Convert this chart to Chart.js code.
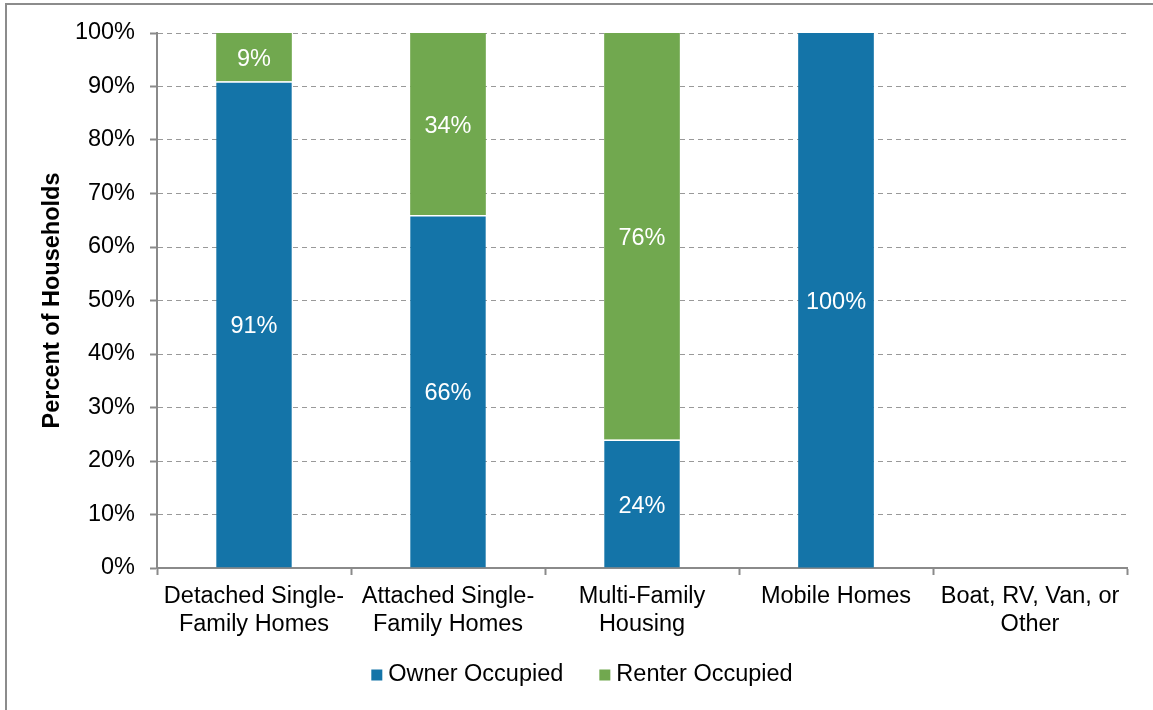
<!DOCTYPE html>
<html>
<head>
<meta charset="utf-8">
<script src="https://cdn.jsdelivr.net/npm/chart.js@4/dist/chart.umd.min.js"></script>
<style>
  html, body { margin: 0; padding: 0; background: #fff; }
  #wrap { width: 1153px; height: 710px; position: relative; }
</style>
</head>
<body>
<div id="wrap"><canvas id="c" width="1153" height="710"></canvas></div>
<script>
// Housing type categories (two-line labels)
const categories = [
  ['Detached Single-', 'Family Homes'],
  ['Attached Single-', 'Family Homes'],
  ['Multi-Family', 'Housing'],
  ['Mobile Homes'],
  ['Boat, RV, Van, or', 'Other']
];
// Share of households by tenure, in percent
const ownerOccupied = [91, 66, 24, 100, 0];
const renterOccupied = [9, 34, 76, 0, 0];
const seriesNames = ['Owner Occupied', 'Renter Occupied'];
const yTicks = [0, 10, 20, 30, 40, 50, 60, 70, 80, 90, 100];

const FONT = '"Liberation Sans", Arial, Helvetica, sans-serif';
const FS = 23.5;
const BLUE = '#1474a8';
const GREEN = '#71a84f';
const AXIS = '#8a8a8a';

// Outer frame of the chart object
const framePlugin = {
  id: 'frame',
  beforeDraw(chart) {
    const ctx = chart.ctx;
    ctx.save();
    ctx.strokeStyle = '#8c8c8c';
    ctx.lineWidth = 2;
    ctx.beginPath();
    ctx.moveTo(6, 720);
    ctx.lineTo(6, 4);
    ctx.lineTo(1160, 4);
    ctx.stroke();
    ctx.restore();
  }
};

// Percent labels inside each bar segment
const valueLabels = {
  id: 'valueLabels',
  afterDatasetsDraw(chart) {
    const ctx = chart.ctx;
    ctx.save();
    ctx.fillStyle = '#ffffff';
    ctx.font = FS + 'px ' + FONT;
    ctx.textAlign = 'center';
    ctx.textBaseline = 'middle';
    chart.data.datasets.forEach((ds, di) => {
      const meta = chart.getDatasetMeta(di);
      meta.data.forEach((bar, i) => {
        const v = ds.data[i];
        if (!v) return;
        const props = bar.getProps(['x', 'y', 'base'], true);
        ctx.fillText(v + '%', props.x, (props.y + props.base) / 2 + 2.5);
      });
    });
    ctx.restore();
  }
};

// Legend row under the axis: small square swatch, label, wide gap between entries
const legendRow = {
  id: 'legendRow',
  afterDraw(chart) {
    const ctx = chart.ctx;
    const box = 11, gap = 6, spacing = 36;
    const cy = 674, cx = 582;
    ctx.save();
    ctx.font = FS + 'px ' + FONT;
    ctx.textBaseline = 'middle';
    const items = chart.data.datasets.map(ds => ({
      text: ds.label, color: ds.backgroundColor, w: ctx.measureText(ds.label).width
    }));
    const total = items.reduce((s, it) => s + box + gap + it.w, 0) + spacing * (items.length - 1);
    let x = cx - total / 2;
    items.forEach(it => {
      ctx.fillStyle = it.color;
      ctx.fillRect(x, cy - box / 2 + 1, box, box);
      ctx.fillStyle = '#000';
      ctx.fillText(it.text, x + box + gap, cy + 1);
      x += box + gap + it.w + spacing;
    });
    ctx.restore();
  }
};

new Chart(document.getElementById('c'), {
  type: 'bar',
  data: {
    labels: categories,
    datasets: [
      {
        label: seriesNames[0],
        data: ownerOccupied,
        backgroundColor: BLUE,
        borderColor: '#ffffff',
        // thin white seam only where a renter segment sits on top
        borderWidth: ctx => ({ top: renterOccupied[ctx.dataIndex] > 0 ? 1.5 : 0, left: 0, right: 0, bottom: 0 }),
        borderSkipped: false,
        barPercentage: 0.39,
        categoryPercentage: 1
      },
      {
        label: seriesNames[1],
        data: renterOccupied,
        backgroundColor: GREEN,
        borderColor: '#ffffff',
        borderWidth: 0,
        barPercentage: 0.39,
        categoryPercentage: 1
      }
    ]
  },
  options: {
    responsive: false,
    animation: false,
    devicePixelRatio: 1,
    layout: { padding: { left: 0, right: 26, top: 33, bottom: 70 } },
    plugins: {
      tooltip: { enabled: false },
      legend: { display: false }
    },
    scales: {
      x: {
        stacked: true,
        afterFit(scale) { scale.height = 72; },
        grid: {
          offset: true,
          drawOnChartArea: false,
          drawTicks: true,
          tickLength: 7,
          tickColor: AXIS,
          tickWidth: 2
        },
        border: { display: true, color: AXIS, width: 2 },
        ticks: {
          color: '#000',
          padding: 7,
          maxRotation: 0,
          autoSkip: false,
          font: { family: FONT, size: FS, lineHeight: 1.2 }
        }
      },
      y: {
        stacked: true,
        min: 0,
        max: 100,
        afterFit(scale) { scale.width = 157; },
        afterBuildTicks(scale) { scale.ticks = yTicks.map(v => ({ value: v })); },
        grid: {
          color: '#999999',
          lineWidth: 1,
          drawTicks: true,
          tickLength: 7,
          tickColor: AXIS,
          tickWidth: 2,
          tickBorderDash: []
        },
        border: { display: true, color: AXIS, width: 2, dash: [5, 4] },
        ticks: {
          color: '#000',
          padding: 15,
          font: { family: FONT, size: FS },
          callback: v => v + '%'
        },
        title: {
          display: true,
          text: 'Percent of Households',
          color: '#000',
          padding: { top: 38, bottom: 0 },
          font: { family: FONT, size: FS, weight: 'bold' }
        }
      }
    }
  },
  plugins: [framePlugin, valueLabels, legendRow]
});
</script>
</body>
</html>
